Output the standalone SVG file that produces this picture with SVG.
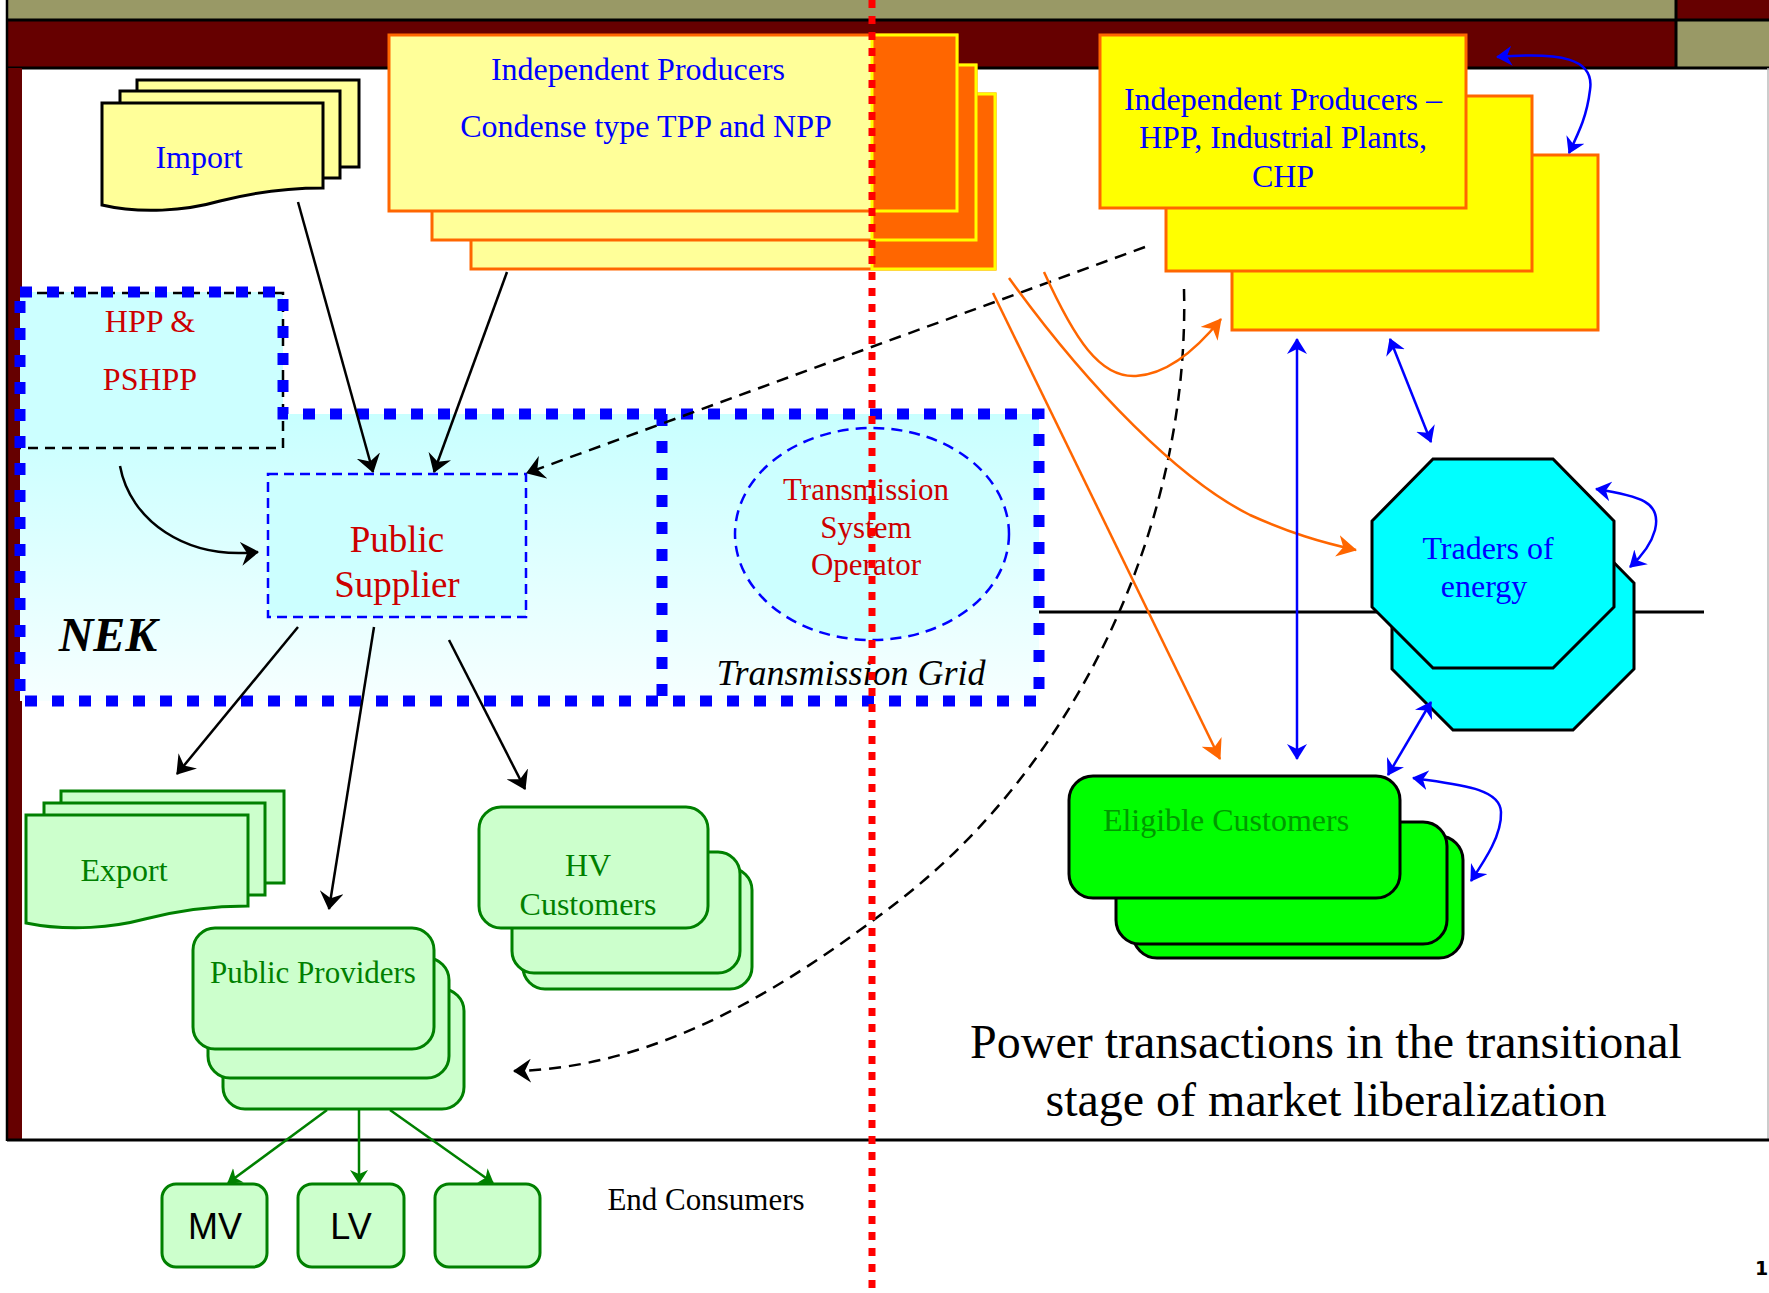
<svg xmlns="http://www.w3.org/2000/svg" width="1769" height="1293" viewBox="0 0 1769 1293">
  <style>
    .serif { font-family: "Liberation Serif", "Times New Roman", serif; }
    .sans { font-family: "Liberation Sans", Arial, sans-serif; }
    .t32 { font-size: 32px; }
    .blue { fill: #0000ff; }
    .red { fill: #cc0000; }
    .green { fill: #008000; }
    .mid { text-anchor: middle; }
    .pale { fill: #ffff99; stroke: #ff6600; stroke-width: 3; }
    .hot { fill: #ff6600; stroke: #ffff00; stroke-width: 3; }
    .ylw { fill: #ffff00; stroke: #ff6600; stroke-width: 3; }
    .lgreen { fill: #ccffcc; stroke: #008000; stroke-width: 3; }
    .bgreen { fill: #00ff00; stroke: #000; stroke-width: 3; }
    .doc { fill: #ffff99; stroke: #000; stroke-width: 3; }
    .cyanoct { fill: #00ffff; stroke: #000; stroke-width: 3; }
    .dotted { fill: none; stroke: #0000ff; stroke-width: 11; stroke-dasharray: 12 15; }
    .k { fill: none; stroke: #000; stroke-width: 2.5; }
    .kd { fill: none; stroke: #000; stroke-width: 2.5; stroke-dasharray: 12 8; }
    .b { fill: none; stroke: #0000ff; stroke-width: 2.5; }
    .o { fill: none; stroke: #ff6600; stroke-width: 2.5; }
    .g { fill: none; stroke: #008000; stroke-width: 2.5; }
  </style>
  <defs>
    <linearGradient id="nekFill" gradientUnits="userSpaceOnUse" x1="0" y1="414" x2="0" y2="700">
      <stop offset="0" stop-color="#c8ffff"/>
      <stop offset="1" stop-color="#f6ffff"/>
    </linearGradient>
    <marker id="ahK" viewBox="0 0 18 24" refX="17" refY="12" markerWidth="18" markerHeight="24" markerUnits="userSpaceOnUse" orient="auto-start-reverse">
      <path d="M0,0 L18,12 L0,24 L6,12 Z" fill="#000"/>
    </marker>
    <marker id="ahB" viewBox="0 0 16 20" refX="15" refY="10" markerWidth="16" markerHeight="20" markerUnits="userSpaceOnUse" orient="auto-start-reverse">
      <path d="M0,0 L16,10 L0,20 L5,10 Z" fill="#0000ff"/>
    </marker>
    <marker id="ahO" viewBox="0 0 20 22" refX="19" refY="11" markerWidth="20" markerHeight="22" markerUnits="userSpaceOnUse" orient="auto-start-reverse">
      <path d="M0,0 L20,11 L0,22 L6,11 Z" fill="#ff6600"/>
    </marker>
    <marker id="ahG" viewBox="0 0 14 18" refX="13" refY="9" markerWidth="14" markerHeight="18" markerUnits="userSpaceOnUse" orient="auto-start-reverse">
      <path d="M0,0 L14,9 L0,18 L4,9 Z" fill="#008000"/>
    </marker>
  </defs>

  <rect width="1769" height="1293" fill="#fff"/>

  <!-- slide frame: title bands, left bar, panel edges -->
  <g id="frame">
    <rect x="7" y="0" width="1669" height="20" fill="#999966"/>
    <rect x="1676" y="0" width="93" height="20" fill="#660000"/>
    <rect x="7" y="20" width="1669" height="48" fill="#660000"/>
    <rect x="1676" y="20" width="93" height="48" fill="#999966"/>
    <line x1="7" y1="20" x2="1769" y2="20" stroke="#000" stroke-width="3"/>
    <line x1="7" y1="68" x2="1769" y2="68" stroke="#000" stroke-width="3"/>
    <line x1="1676" y1="0" x2="1676" y2="68" stroke="#000" stroke-width="3"/>
    <rect x="8" y="68" width="14" height="1072" fill="#660000"/>
    <line x1="7" y1="0" x2="7" y2="1141" stroke="#000" stroke-width="2.5"/>
    <line x1="1768" y1="68" x2="1768" y2="1140" stroke="#bbb" stroke-width="1.5"/>
    <line x1="7" y1="1140" x2="1769" y2="1140" stroke="#000" stroke-width="3"/>
  </g>

  <!-- NEK area with HPP block and transmission grid -->
  <g id="nek">
    <path d="M20,292 H283 V414 H1039 V701 H20 Z" fill="url(#nekFill)"/>
    <rect x="20" y="292" width="263" height="156" fill="#ccffff"/>
    <path d="M20,293 H283 V448 H20" fill="none" stroke="#000" stroke-width="2.5" stroke-dasharray="10 7"/>
    <path d="M20,292 H283 V414 H1039 V701 H20 Z" class="dotted"/>
    <line x1="662" y1="414" x2="662" y2="701" class="dotted"/>
    <text x="108" y="651" class="serif" font-size="48" font-weight="bold" font-style="italic" text-anchor="middle">NEK</text>
    <text x="851" y="685" class="serif" font-size="36" font-style="italic" text-anchor="middle">Transmission Grid</text>
  </g>

  <g id="hpp-pshpp">
    <text x="150" y="332" class="serif t32 red mid">HPP &amp;</text>
    <text x="150" y="390" class="serif t32 red mid">PSHPP</text>
  </g>

  <g id="public-supplier">
    <rect x="268" y="474" width="258" height="143" fill="#ccffff" stroke="#0000ff" stroke-width="2.5" stroke-dasharray="10 6"/>
    <text x="397" y="552" class="serif red mid" font-size="37">Public</text>
    <text x="397" y="597" class="serif red mid" font-size="37">Supplier</text>
  </g>

  <g id="tso">
    <ellipse cx="872" cy="534" rx="137" ry="106" fill="#ccffff" stroke="#0000ff" stroke-width="2.5" stroke-dasharray="11 7"/>
    <text x="866" y="500" class="serif red mid" font-size="31">Transmission</text>
    <text x="866" y="538" class="serif red mid" font-size="31">System</text>
    <text x="866" y="575" class="serif red mid" font-size="31">Operator</text>
  </g>

  <!-- market line behind the traders -->
  <line x1="1039" y1="612" x2="1704" y2="612" stroke="#000" stroke-width="3"/>

  <g id="import">
    <rect x="137" y="80" width="222" height="87" class="doc"/>
    <rect x="120" y="91" width="220" height="87" class="doc"/>
    <path d="M102,103 H323 V188 C290,188 255,192 220,201 C185,211 140,214 102,205 Z" class="doc"/>
    <text x="199" y="168" class="serif t32 blue mid">Import</text>
  </g>

  <g id="independent-producers-tpp-npp">
    <rect x="471" y="94" width="524" height="175" class="pale"/>
    <rect x="872" y="94" width="123" height="175" class="hot"/>
    <rect x="432" y="65" width="544" height="175" class="pale"/>
    <rect x="872" y="65" width="104" height="175" class="hot"/>
    <rect x="389" y="35" width="568" height="176" class="pale"/>
    <rect x="872" y="35" width="85" height="176" class="hot"/>
    <text x="638" y="80" class="serif t32 blue mid">Independent Producers</text>
    <text x="646" y="137" class="serif t32 blue mid">Condense type TPP and NPP</text>
  </g>

  <g id="independent-producers-hpp">
    <rect x="1232" y="155" width="366" height="175" class="ylw"/>
    <rect x="1166" y="96" width="366" height="175" class="ylw"/>
    <rect x="1100" y="35" width="366" height="173" class="ylw"/>
    <text x="1283" y="110" class="serif t32 blue mid">Independent Producers –</text>
    <text x="1283" y="148" class="serif t32 blue mid">HPP, Industrial Plants,</text>
    <text x="1283" y="187" class="serif t32 blue mid">CHP</text>
  </g>

  <g id="traders">
    <polygon points="1453,521 1573,521 1634,583 1634,669 1573,730 1453,730 1392,669 1392,583" class="cyanoct"/>
    <polygon points="1433,459 1553,459 1614,521 1614,607 1553,668 1433,668 1372,607 1372,521" class="cyanoct"/>
    <text x="1488" y="559" class="serif t32 blue mid">Traders of</text>
    <text x="1484" y="597" class="serif t32 blue mid">energy</text>
  </g>

  <g id="eligible-customers">
    <rect x="1133" y="836" width="330" height="122" rx="24" class="bgreen"/>
    <rect x="1116" y="822" width="331" height="122" rx="24" class="bgreen"/>
    <rect x="1069" y="776" width="331" height="122" rx="24" class="bgreen"/>
    <text x="1226" y="831" class="serif t32 mid" fill="#009900">Eligible Customers</text>
  </g>

  <g id="export">
    <rect x="61" y="791" width="223" height="92" class="lgreen"/>
    <rect x="44" y="803" width="221" height="92" class="lgreen"/>
    <path d="M26,815 H248 V906 C215,906 180,910 145,919 C115,927 70,932 26,923 Z" class="lgreen"/>
    <text x="124" y="881" class="serif t32 green mid">Export</text>
  </g>

  <g id="hv-customers">
    <rect x="523" y="868" width="229" height="121" rx="22" class="lgreen"/>
    <rect x="512" y="852" width="228" height="121" rx="22" class="lgreen"/>
    <rect x="479" y="807" width="229" height="121" rx="22" class="lgreen"/>
    <text x="588" y="876" class="serif t32 green mid">HV</text>
    <text x="588" y="915" class="serif t32 green mid">Customers</text>
  </g>

  <g id="public-providers">
    <rect x="223" y="989" width="241" height="120" rx="22" class="lgreen"/>
    <rect x="208" y="958" width="241" height="120" rx="22" class="lgreen"/>
    <rect x="193" y="928" width="241" height="121" rx="22" class="lgreen"/>
    <text x="313" y="983" class="serif green mid" font-size="31">Public Providers</text>
  </g>

  <g id="mv">
    <rect x="162" y="1184" width="105" height="83" rx="14" class="lgreen"/>
    <text x="215" y="1239" class="sans mid" font-size="36">MV</text>
  </g>
  <g id="lv">
    <rect x="298" y="1184" width="106" height="83" rx="14" class="lgreen"/>
    <text x="351" y="1239" class="sans mid" font-size="36">LV</text>
  </g>
  <g id="hv-end">
    <rect x="435" y="1184" width="105" height="83" rx="14" class="lgreen"/>
  </g>

  <g id="connectors">
    <!-- supply into the public supplier -->
    <path d="M120,466 C130,520 185,560 258,552" class="k" marker-end="url(#ahK)"/>
    <line x1="298" y1="202" x2="373" y2="472" class="k" marker-end="url(#ahK)"/>
    <line x1="507" y1="272" x2="434" y2="472" class="k" marker-end="url(#ahK)"/>
    <line x1="1145" y1="247" x2="527" y2="473" class="kd" marker-end="url(#ahK)"/>
    <!-- public supplier outputs -->
    <line x1="298" y1="627" x2="177" y2="774" class="k" marker-end="url(#ahK)"/>
    <line x1="374" y1="627" x2="329" y2="909" class="k" marker-end="url(#ahK)"/>
    <line x1="449" y1="640" x2="525" y2="789" class="k" marker-end="url(#ahK)"/>
    <!-- independent producers back to public providers -->
    <path d="M1184,289 C1190,520 1080,760 900,900 C790,985 660,1068 514,1071" class="kd" marker-end="url(#ahK)"/>
    <!-- orange flows from the condense-type producers -->
    <line x1="993" y1="293" x2="1220" y2="759" class="o" marker-end="url(#ahO)"/>
    <path d="M1009,278 C1090,390 1180,480 1250,515 C1290,533 1320,542 1356,550" class="o" marker-end="url(#ahO)"/>
    <path d="M1044,272 C1075,340 1100,378 1136,376 C1170,374 1200,345 1221,319" class="o" marker-end="url(#ahO)"/>
    <!-- blue bilateral trades -->
    <path d="M1497,57 C1560,52 1595,58 1590,90 C1587,115 1580,130 1569,153" class="b" marker-start="url(#ahB)" marker-end="url(#ahB)"/>
    <line x1="1297" y1="339" x2="1297" y2="759" class="b" marker-start="url(#ahB)" marker-end="url(#ahB)"/>
    <line x1="1390" y1="339" x2="1431" y2="442" class="b" marker-start="url(#ahB)" marker-end="url(#ahB)"/>
    <path d="M1596,489 C1640,496 1662,502 1655,530 C1651,545 1642,556 1630,567" class="b" marker-start="url(#ahB)" marker-end="url(#ahB)"/>
    <line x1="1431" y1="702" x2="1388" y2="775" class="b" marker-start="url(#ahB)" marker-end="url(#ahB)"/>
    <path d="M1413,778 C1460,785 1500,788 1501,812 C1502,835 1485,860 1471,881" class="b" marker-start="url(#ahB)" marker-end="url(#ahB)"/>
    <!-- distribution to end consumers -->
    <line x1="327" y1="1110" x2="228" y2="1183" class="g" marker-end="url(#ahG)"/>
    <line x1="359" y1="1110" x2="359" y2="1183" class="g" marker-end="url(#ahG)"/>
    <line x1="390" y1="1110" x2="493" y2="1183" class="g" marker-end="url(#ahG)"/>
  </g>

  <!-- regulated / liberalised boundary -->
  <line x1="872" y1="0" x2="872" y2="1293" stroke="#ff0000" stroke-width="7" stroke-dasharray="8 8"/>

  <g id="labels">
    <text x="706" y="1210" class="serif" font-size="31" text-anchor="middle">End Consumers</text>
    <text x="1326" y="1058" class="serif" font-size="48" text-anchor="middle">Power transactions in the transitional</text>
    <text x="1326" y="1116" class="serif" font-size="48" text-anchor="middle">stage of market liberalization</text>
    <text x="1755" y="1275" font-family="'DejaVu Sans', Verdana, sans-serif" font-size="19" font-weight="bold">1</text>
  </g>
</svg>
